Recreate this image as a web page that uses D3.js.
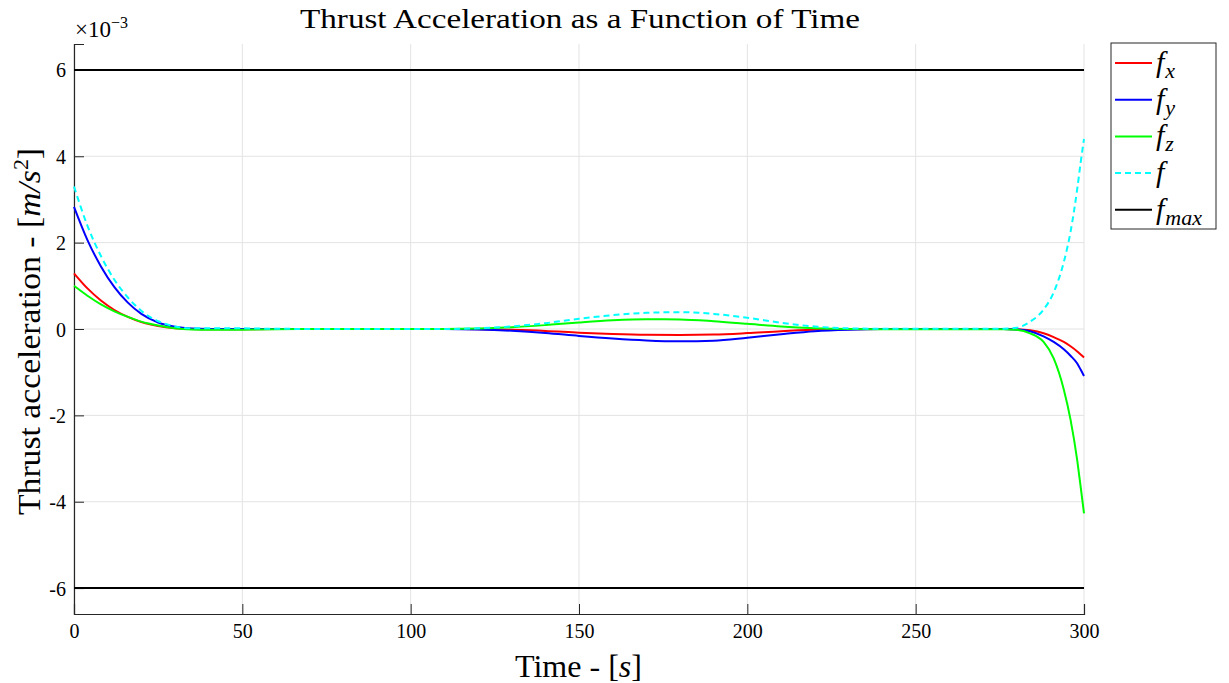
<!DOCTYPE html>
<html><head><meta charset="utf-8">
<script src="https://cdn.jsdelivr.net/npm/d3@7"></script>
<style>body{margin:0;background:#fff}text{font-family:"Liberation Serif","DejaVu Serif",serif;fill:#000}</style>
</head><body><svg id="c" width="1229" height="683"></svg>
<script>
const time = [0,4,8,12,16,20,25,30,35,40,50,60,80,100,110,120,130,140,150,160,170,180,190,200,210,220,230,240,250,260,276,280,284,288,291,294,296,298,299,300];
const fx = [1.29,0.94,0.66,0.44,0.28,0.16,0.07,0.02,0,-0.005,-0.005,0,0,0,0,-0.005,-0.02,-0.045,-0.085,-0.115,-0.135,-0.14,-0.13,-0.095,-0.05,-0.02,-0.005,0,0,0,0,-0.005,-0.03,-0.1,-0.19,-0.3,-0.4,-0.52,-0.59,-0.66];
const fy = [2.83,2.06,1.45,0.97,0.61,0.35,0.15,0.05,0.01,0,0,0,0,0,0,-0.01,-0.04,-0.09,-0.16,-0.22,-0.265,-0.285,-0.27,-0.2,-0.12,-0.05,-0.015,0,0,0,0,-0.01,-0.05,-0.17,-0.3,-0.47,-0.62,-0.8,-0.94,-1.09];
const fz = [1.0,0.77,0.57,0.41,0.28,0.17,0.08,0.02,-0.01,-0.02,-0.015,-0.005,0,0,0,0.01,0.04,0.09,0.15,0.2,0.225,0.22,0.18,0.12,0.06,0.02,0,-0.005,-0.005,-0.005,-0.005,-0.02,-0.1,-0.3,-0.68,-1.4,-2.1,-3.05,-3.65,-4.27];
const fmag = [3.30,2.39,1.69,1.14,0.73,0.42,0.18,0.06,0.015,0.02,0.015,0.005,0,0,0,0.015,0.06,0.135,0.237,0.32,0.375,0.39,0.35,0.26,0.145,0.057,0.016,0.005,0.005,0.005,0.005,0.03,0.17,0.45,0.85,1.55,2.25,3.25,3.85,4.4];
const fmax = 6;
const xTicks = [0,50,100,150,200,250,300];
const yTicks = [-6,-4,-2,0,2,4,6];

const svg = d3.select("#c");
const L=74,R=1084,T=44,B=614;
const x = d3.scaleLinear().domain([0,300]).range([L,R]);
const y = d3.scaleLinear().domain([-6.6,6.6]).range([B,T]);

// grid
svg.append("g").selectAll("line").data(xTicks).join("line")
  .attr("x1",d=>x(d)).attr("x2",d=>x(d)).attr("y1",T).attr("y2",B)
  .attr("stroke","#e3e3e3").attr("stroke-width",1);
svg.append("g").selectAll("line").data(yTicks).join("line")
  .attr("x1",L).attr("x2",R).attr("y1",d=>y(d)).attr("y2",d=>y(d))
  .attr("stroke","#e3e3e3").attr("stroke-width",1);

// axes
const xAx = svg.append("g").attr("transform",`translate(0,${B})`)
  .call(d3.axisBottom(x).tickValues(xTicks).tickSize(-10).tickPadding(10).tickFormat(d3.format("d")));
const yAx = svg.append("g").attr("transform",`translate(${L},0)`)
  .call(d3.axisLeft(y).tickValues(yTicks).tickSize(-10).tickPadding(8).tickFormat(d=>String(d)));
[xAx,yAx].forEach(a=>{
  a.attr("font-family",null);
  a.select(".domain").attr("stroke","#262626").attr("stroke-width",1.2);
  a.selectAll(".tick line").attr("stroke","#262626").attr("stroke-width",1);
  a.selectAll(".tick text").style("font-size","20px").attr("fill","#262626");
});
yAx.selectAll(".tick text").attr("dy","0.35em");
// ticks point inward: place labels outside the axis
xAx.selectAll(".tick text").attr("y",10);
yAx.selectAll(".tick text").attr("x",-8);

// lines
const line = arr => d3.line().x((d,i)=>x(time[i])).y(d=>y(d)).curve(d3.curveMonotoneX)(arr);
const g = svg.append("g");
g.append("line").attr("x1",x(0)).attr("x2",x(300)).attr("y1",y(fmax)).attr("y2",y(fmax)).attr("stroke","#000").attr("stroke-width",2);
g.append("line").attr("x1",x(0)).attr("x2",x(300)).attr("y1",y(-fmax)).attr("y2",y(-fmax)).attr("stroke","#000").attr("stroke-width",2);
g.append("path").attr("d",line(fx)).attr("fill","none").attr("stroke","#ff0000").attr("stroke-width",2);
g.append("path").attr("d",line(fy)).attr("fill","none").attr("stroke","#0000ff").attr("stroke-width",2);
g.append("path").attr("d",line(fz)).attr("fill","none").attr("stroke","#00ff00").attr("stroke-width",2);
g.append("path").attr("d",line(fmag)).attr("fill","none").attr("stroke","#00ffff").attr("stroke-width",2).attr("stroke-dasharray","6,4");

// title & labels
svg.append("text").attr("x",580).attr("y",28).attr("text-anchor","middle").style("font-size","28px")
  .attr("textLength",560).attr("lengthAdjust","spacingAndGlyphs")
  .text("Thrust Acceleration as a Function of Time");
const xl = svg.append("text").attr("x",515).attr("y",677).style("font-size","31px")
  .attr("textLength",127).attr("lengthAdjust","spacingAndGlyphs");
xl.append("tspan").text("Time - [");
xl.append("tspan").style("font-style","italic").text("s");
xl.append("tspan").text("]");
const yl = svg.append("text").attr("transform","translate(40,515) rotate(-90)").style("font-size","31px")
  .attr("textLength",367).attr("lengthAdjust","spacingAndGlyphs");
yl.append("tspan").text("Thrust acceleration - [");
yl.append("tspan").style("font-style","italic").text("m/s");
yl.append("tspan").attr("dy",-12).style("font-size","20px").text("2");
yl.append("tspan").attr("dy",12).text("]");
const ex = svg.append("text").attr("x",75).attr("y",37).style("font-size","23px").attr("fill","#262626");
ex.append("tspan").text("×10");
ex.append("tspan").attr("dy",-9).style("font-size","16px").text("−3");

// legend
const leg = [
  {n:"f",s:"x",c:"#ff0000",d:null},
  {n:"f",s:"y",c:"#0000ff",d:null},
  {n:"f",s:"z",c:"#00ff00",d:null},
  {n:"f",s:"",c:"#00ffff",d:"6,4"},
  {n:"f",s:"max",c:"#000000",d:null}
];
svg.append("rect").attr("x",1111).attr("y",43).attr("width",105).attr("height",186)
  .attr("fill","#fff").attr("stroke","#262626").attr("stroke-width",1);
const lg = svg.append("g").selectAll("g").data(leg).join("g")
  .attr("transform",(d,i)=>`translate(0,${63+i*36.7})`);
lg.append("line").attr("x1",1115).attr("x2",1152).attr("y1",0).attr("y2",0)
  .attr("stroke",d=>d.c).attr("stroke-width",2).attr("stroke-dasharray",d=>d.d);
const lt = lg.append("text").attr("x",1156).attr("y",9).style("font-size","30px").style("font-style","italic");
lt.append("tspan").text(d=>d.n);
lt.append("tspan").attr("dy",6).attr("dx",1).style("font-size","22px").text(d=>d.s);
</script></body></html>
